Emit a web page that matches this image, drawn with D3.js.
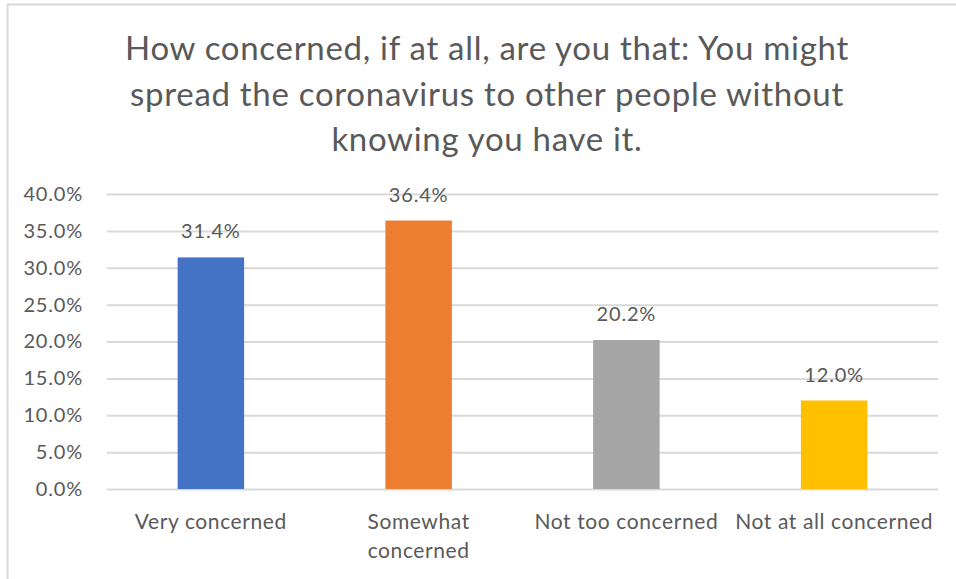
<!DOCTYPE html>
<html lang="en">
  <head>
    <meta charset="utf-8">
    <title>D3</title>
    <script src="https://d3js.org/d3.v7.min.js"></script>
    <style>
      body { margin: 0; background: #fff; }
      text { font-family: Lato, 'Open Sans', sans-serif; fill: #595959; }
    </style>
  </head>
  <body>
    <script>
const categories = [['Very concerned'], ['Somewhat', 'concerned'], ['Not too concerned'], ['Not at all concerned']]
const values = [31.4, 36.4, 20.2, 12.0]
const colors = ['#4472c4', '#ed7d31', '#a5a5a5', '#ffc000']
const yTicks = [0, 5, 10, 15, 20, 25, 30, 35, 40]
const titleLines = [
	'How concerned, if at all, are you that: You might',
	'spread the coronavirus to other people without',
	'knowing you have it.'
]

const dimensions = {
	width: 956,
	height: 579,
	margin: { top: 194, bottom: 90, left: 107, right: 18 }
}
dimensions.containerWidth = dimensions.width - dimensions.margin.left - dimensions.margin.right
dimensions.containerHeight = dimensions.height - dimensions.margin.top - dimensions.margin.bottom

const svg = d3.select('body')
	.append('svg')
	.attr('width', dimensions.width)
	.attr('height', dimensions.height)

// outer chart border (right/bottom edges fall outside the picture)
svg.append('rect')
	.attr('x', 7.5)
	.attr('y', 4.5)
	.attr('width', 960)
	.attr('height', 600)
	.attr('fill', 'none')
	.attr('stroke', '#d9d9d9')
	.attr('stroke-width', 2)

svg.append('g')
	.selectAll('text')
	.data(titleLines)
	.join('text')
	.attr('x', 487)
	.attr('y', (d, i) => 60 + i * 45.5)
	.attr('text-anchor', 'middle')
	.style('font-size', '33px')
	.style('letter-spacing', '0.7px')
	.text(d => d)

const chart = svg.append('g')
	.attr('transform', `translate(${dimensions.margin.left}, ${dimensions.margin.top})`)

const xScale = d3.scaleBand()
	.domain(d3.range(values.length))
	.range([0, dimensions.containerWidth])
	.paddingInner(0.68)
	.paddingOuter(0.34)

const yScale = d3.scaleLinear()
	.domain([0, 40])
	.range([dimensions.containerHeight, 0])

const yAxis = d3.axisLeft(yScale)
	.tickValues(yTicks)
	.tickSize(-dimensions.containerWidth)
	.tickPadding(24)
	.tickFormat(d => d.toFixed(1) + '%')

const yAxisGroup = chart.append('g').call(yAxis)
yAxisGroup.select('.domain').remove()
yAxisGroup.selectAll('line').attr('stroke', '#d9d9d9').attr('stroke-width', 2)
yAxisGroup.selectAll('text')
	.style('font-size', '20px')
	.style('letter-spacing', '0.8px')
	.style('font-family', 'Lato, sans-serif')
	.attr('fill', '#595959')

chart.selectAll('rect.bar')
	.data(values)
	.join('rect')
	.classed('bar', true)
	.attr('x', (d, i) => xScale(i))
	.attr('y', d => yScale(d))
	.attr('width', xScale.bandwidth())
	.attr('height', d => dimensions.containerHeight - yScale(d))
	.attr('fill', (d, i) => colors[i])

chart.selectAll('text.value')
	.data(values)
	.join('text')
	.classed('value', true)
	.attr('x', (d, i) => xScale(i) + xScale.bandwidth() / 2)
	.attr('y', d => yScale(d) - 19)
	.attr('text-anchor', 'middle')
	.style('font-size', '20px')
	.style('letter-spacing', '0.8px')
	.text(d => d.toFixed(1) + '%')

const catGroups = chart.selectAll('g.cat')
	.data(categories)
	.join('g')
	.classed('cat', true)
	.attr('transform', (d, i) => `translate(${xScale(i) + xScale.bandwidth() / 2}, ${dimensions.containerHeight + 40})`)

catGroups.selectAll('text')
	.data(d => d)
	.join('text')
	.attr('y', (d, i) => i * 29)
	.attr('text-anchor', 'middle')
	.style('font-size', '21px')
	.style('letter-spacing', '0.6px')
	.text(d => d)
    </script>
  </body>
</html>
